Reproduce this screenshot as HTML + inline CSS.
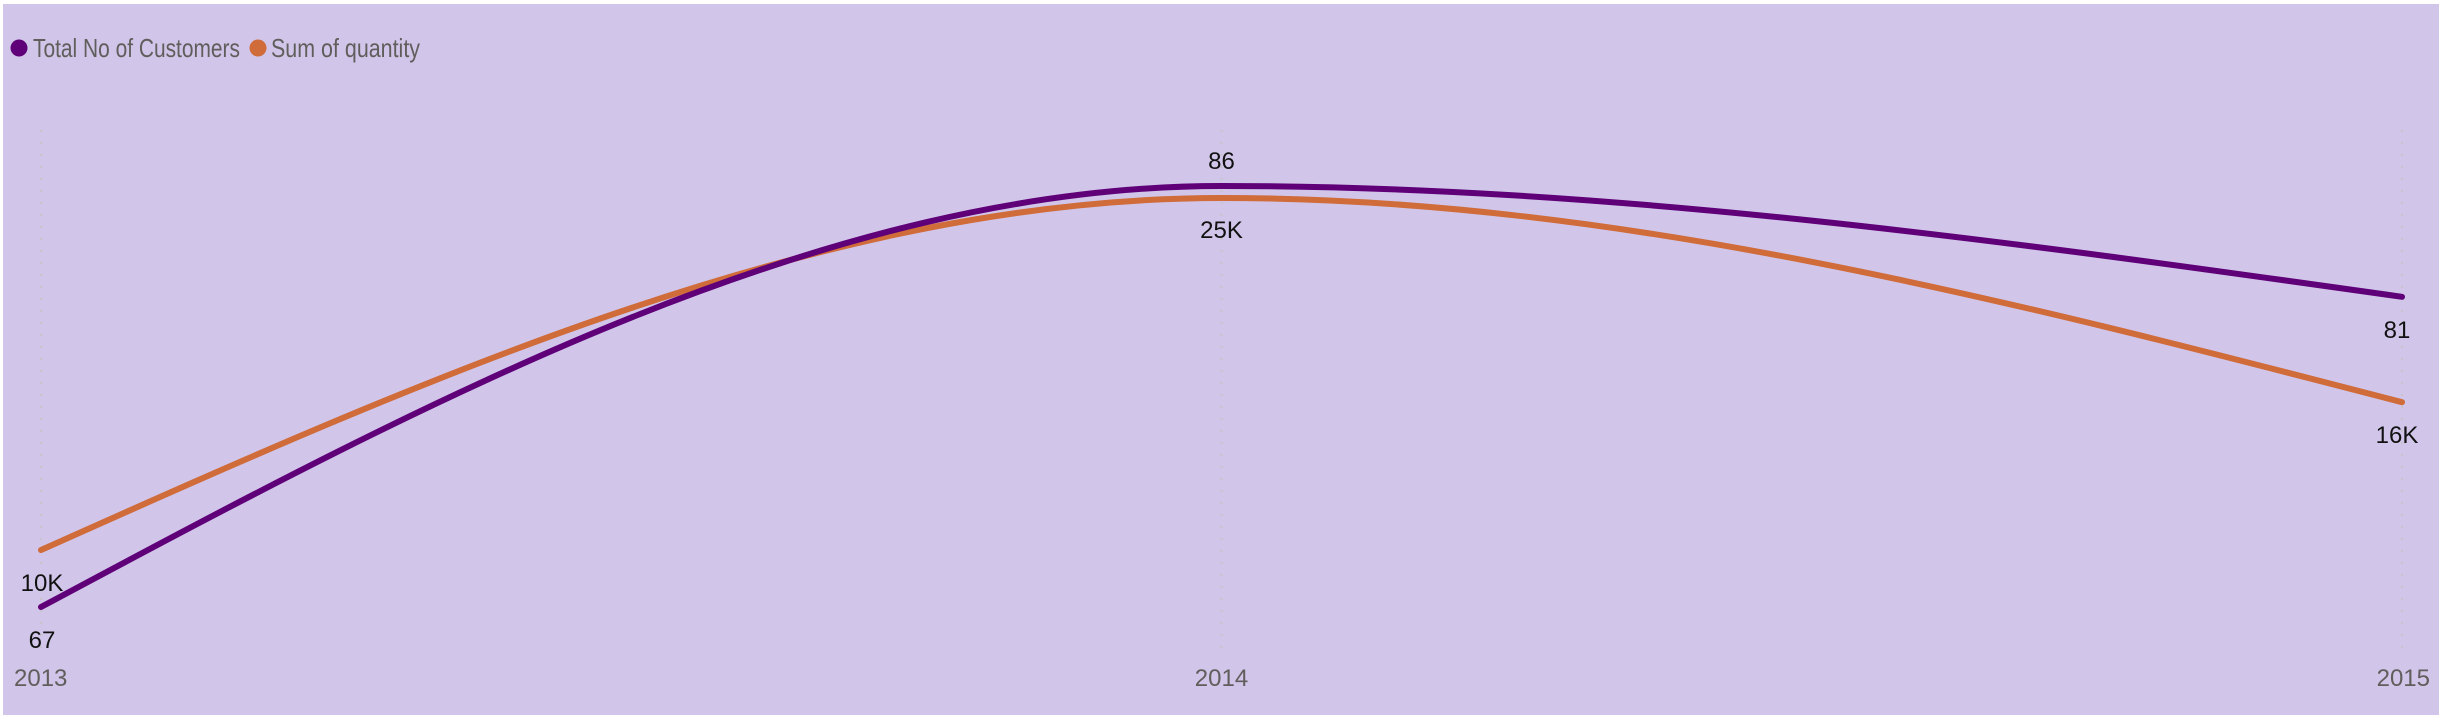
<!DOCTYPE html>
<html><head><meta charset="utf-8">
<style>
html,body{margin:0;padding:0;background:#fff;}
svg{display:block;}
text{font-family:"Liberation Sans",sans-serif;}
</style></head>
<body>
<svg id="chart" width="2442" height="715" viewBox="0 0 2442 715" xmlns="http://www.w3.org/2000/svg">
<rect x="3" y="4" width="2436" height="711" fill="#D1C6E9"/>
<g>
<circle cx="19" cy="48" r="8.5" fill="#5F0079"/>
<text x="33" y="57" font-size="26" fill="#605E5C" textLength="207" lengthAdjust="spacingAndGlyphs">Total No of Customers</text>
<circle cx="258" cy="48" r="8.5" fill="#D06B3A"/>
<text x="271" y="57" font-size="26" fill="#605E5C" textLength="149" lengthAdjust="spacingAndGlyphs">Sum of quantity</text>
</g>
<g id="grid"></g>
<g id="series"></g>
<g id="labels"></g>
<g id="xaxis"></g>
</svg>
<script>
const categories = ["2013","2014","2015"];
const customers = [67, 86, 81];
const customerLabels = ["67","86","81"];
const quantity = [10000, 25000, 16300];
const quantityLabels = ["10K","25K","16K"];

const NS="http://www.w3.org/2000/svg";
const x0=41, x1=2402;
function xScale(i){return x0+(x1-x0)*i/(categories.length-1);}
function yCust(v){return 186+(86-v)*22.16;}
function yQty(v){return 198+(25000-v)*0.02347;}

function monotone(xs,ys){
  const n=xs.length, d=[], m=[];
  for(let i=0;i<n-1;i++)d[i]=(ys[i+1]-ys[i])/(xs[i+1]-xs[i]);
  for(let i=1;i<n-1;i++){
    if(d[i-1]*d[i]<=0)m[i]=0;
    else{const h0=xs[i]-xs[i-1],h1=xs[i+1]-xs[i];const p=(d[i-1]*h1+d[i]*h0)/(h0+h1);
      m[i]=(Math.sign(d[i-1])+Math.sign(d[i]))*Math.min(Math.abs(d[i-1]),Math.abs(d[i]),0.5*Math.abs(p));}
  }
  m[0]=n>2?(3*d[0]-m[1])/2:d[0];
  m[n-1]=n>2?(3*d[n-2]-m[n-2])/2:d[n-2];
  let p="M"+xs[0]+","+ys[0];
  for(let i=0;i<n-1;i++){const dx=(xs[i+1]-xs[i])/3;
    p+=" C"+(xs[i]+dx)+","+(ys[i]+m[i]*dx)+" "+(xs[i+1]-dx)+","+(ys[i+1]-m[i+1]*dx)+" "+xs[i+1]+","+ys[i+1];}
  return p;
}

const grid=document.getElementById('grid');
const xaxis=document.getElementById('xaxis');
categories.forEach((c,i)=>{
  const ln=document.createElementNS(NS,'line');
  ln.setAttribute('x1',xScale(i));ln.setAttribute('x2',xScale(i));
  ln.setAttribute('y1',130);ln.setAttribute('y2',655);
  ln.setAttribute('stroke','#C8C4CC');ln.setAttribute('stroke-width','2');ln.setAttribute('stroke-dasharray','2,10');
  
  
  grid.appendChild(ln);
  const t=document.createElementNS(NS,'text');
  let anchor='middle',tx=xScale(i);
  if(i===0){anchor='start';tx=14;}
  if(i===categories.length-1){anchor='end';tx=2430;}
  t.setAttribute('x',tx);t.setAttribute('y',686);t.setAttribute('text-anchor',anchor);
  t.setAttribute('font-size','24');t.setAttribute('fill','#605E5C');
  t.textContent=c;
  
  
  xaxis.appendChild(t);
});

const series=document.getElementById('series');
const labels=document.getElementById('labels');
const xs=categories.map((c,i)=>xScale(i));
function drawSeries(vals,yf,color,name,lbls,offsets){
  const p=document.createElementNS(NS,'path');
  p.setAttribute('d',monotone(xs,vals.map(yf)));
  p.setAttribute('fill','none');p.setAttribute('stroke',color);p.setAttribute('stroke-width','6');p.setAttribute('stroke-linecap','round');
  
  
  series.appendChild(p);
  vals.forEach((v,i)=>{
    const t=document.createElementNS(NS,'text');
    t.setAttribute('x',xs[i]+(i===0?1:(i===vals.length-1?-5:0)));
    t.setAttribute('y',yf(v)+offsets[i]);
    t.setAttribute('text-anchor','middle');t.setAttribute('font-size','24');t.setAttribute('fill','#111');
    t.textContent=lbls[i];
    
    
    labels.appendChild(t);
  });
}
drawSeries(quantity,yQty,'#D06B3A','quantity',quantityLabels,[41,40,41]);
drawSeries(customers,yCust,'#5F0079','customers',customerLabels,[41,-17,41]);
</script>
</body></html>
